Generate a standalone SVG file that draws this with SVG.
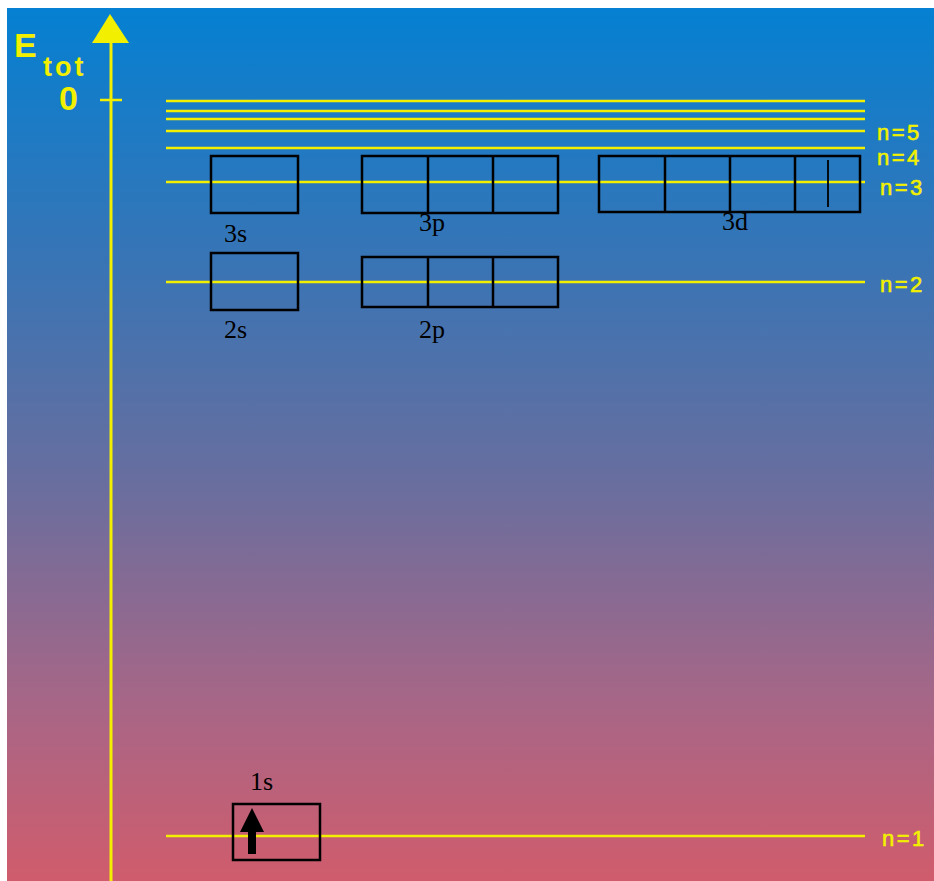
<svg xmlns="http://www.w3.org/2000/svg" width="934" height="881" viewBox="0 0 934 881">
<defs>
<linearGradient id="bg" x1="0" y1="0" x2="0" y2="1">
<stop offset="0" stop-color="#0580d2"/>
<stop offset="0.3" stop-color="#3a74b4"/>
<stop offset="0.55" stop-color="#6a6e9e"/>
<stop offset="0.8" stop-color="#a86686"/>
<stop offset="1" stop-color="#d05c6c"/>
</linearGradient>
<style>
.lvl{stroke:#f2f000;stroke-width:2.5;fill:none}
.box{stroke:#000;stroke-width:2.5;fill:none}
.ylab{font-family:"Liberation Sans",Arial,sans-serif;font-weight:bold;fill:#f2f000}
.nlab{font-family:"Liberation Sans",Arial,sans-serif;font-size:22px;fill:#f2f000;stroke:#f2f000;stroke-width:0.6;letter-spacing:2.5px}
.olab{font-family:"Liberation Serif","Times New Roman",serif;font-size:26px;fill:#000}
</style>
</defs>
<rect x="0" y="0" width="934" height="881" fill="#ffffff"/>
<rect x="7" y="8" width="927" height="873" fill="url(#bg)"/>
<g id="axis">
<line x1="111" y1="40" x2="111" y2="881" stroke="#f2f000" stroke-width="3"/>
<polygon points="110,14 92,43 129,43" fill="#f2f000"/>
<line x1="100" y1="100" x2="122" y2="100" stroke="#f2f000" stroke-width="2.5"/>
<text class="ylab" x="14" y="57" font-size="34">E</text>
<text class="ylab" x="43" y="76" font-size="27" letter-spacing="3">tot</text>
<text class="ylab" x="59" y="110" font-size="34">0</text>
</g>
<g id="levels">
<line class="lvl" x1="166" y1="101" x2="865" y2="101"/>
<line class="lvl" x1="166" y1="111" x2="865" y2="111"/>
<line class="lvl" x1="166" y1="119" x2="865" y2="119"/>
<line class="lvl" x1="166" y1="131" x2="865" y2="131"/>
<line class="lvl" x1="166" y1="148" x2="865" y2="148"/>
<line class="lvl" x1="166" y1="182" x2="865" y2="182"/>
<line class="lvl" x1="166" y1="282" x2="865" y2="282"/>
<line class="lvl" x1="166" y1="836" x2="865" y2="836"/>
<text class="nlab" x="877" y="140">n=5</text>
<text class="nlab" x="877" y="165">n=4</text>
<text class="nlab" x="880" y="195">n=3</text>
<text class="nlab" x="880" y="292">n=2</text>
<text class="nlab" x="882" y="846">n=1</text>
</g>
<g id="orb-3s">
<rect class="box" x="211" y="156" width="87" height="57"/>
<text class="olab" x="224" y="242">3s</text>
</g>
<g id="orb-3p">
<rect class="box" x="362" y="156" width="196" height="57"/>
<line class="box" x1="428" y1="156" x2="428" y2="213"/>
<line class="box" x1="493" y1="156" x2="493" y2="213"/>
<text class="olab" x="419" y="231">3p</text>
</g>
<g id="orb-3d">
<rect class="box" x="599" y="156" width="261" height="56"/>
<line class="box" x1="665" y1="156" x2="665" y2="212"/>
<line class="box" x1="730" y1="156" x2="730" y2="212"/>
<line class="box" x1="795" y1="156" x2="795" y2="212"/>
<line x1="828" y1="160" x2="828" y2="207" stroke="#000" stroke-width="1.8"/>
<text class="olab" x="722" y="230">3d</text>
</g>
<g id="orb-2s">
<rect class="box" x="211" y="253" width="87" height="57"/>
<text class="olab" x="224" y="338">2s</text>
</g>
<g id="orb-2p">
<rect class="box" x="362" y="257" width="196" height="50"/>
<line class="box" x1="428" y1="257" x2="428" y2="307"/>
<line class="box" x1="493" y1="257" x2="493" y2="307"/>
<text class="olab" x="419" y="338">2p</text>
</g>
<g id="orb-1s">
<rect class="box" x="233" y="804" width="87" height="56"/>
<rect x="248" y="830" width="8" height="24" fill="#000"/>
<polygon points="252,808 240,832 264,832" fill="#000"/>
<text class="olab" x="250" y="790">1s</text>
</g>
</svg>
